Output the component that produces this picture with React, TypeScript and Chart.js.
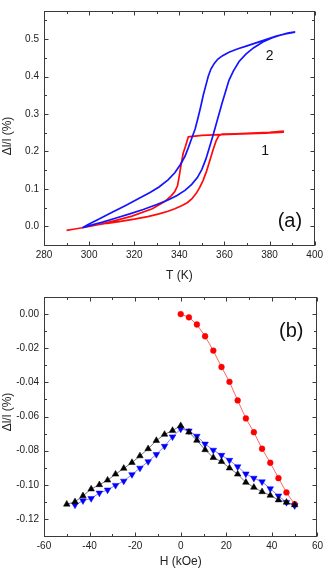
import { useEffect, useRef } from "react";
import { Chart, registerables } from "chart.js";

Chart.register(...registerables);

const FONT = "'Liberation Sans', Arial, Helvetica, sans-serif";

// ---------- Panel (a): strain vs temperature ----------
const tempTicks = [280, 300, 320, 340, 360, 380, 400];
const strainTicksA = [0, 0.1, 0.2, 0.3, 0.4, 0.5];

// curve 1 (red): heating branch then cooling branch
const curve1T = [
  290, 293, 297, 302, 308, 314, 320, 326, 331, 335, 338, 341, 343.5, 345.5, 347.5, 349, 350.5, 352, 353.5, 355, 356.3,
  357.5, 359, 365, 372, 380, 386,
  386, 378, 368, 358, 350, 344, 342.8, 341.7, 340.8, 340, 339.2, 338, 336.5, 333.5, 328, 319, 311.5, 304, 297,
];
const curve1Y = [
  -0.011, -0.008, -0.004, 0.002, 0.008, 0.013, 0.019, 0.026, 0.033, 0.04, 0.047, 0.055, 0.063, 0.073, 0.088, 0.103,
  0.122, 0.146, 0.175, 0.205, 0.228, 0.242, 0.246, 0.247, 0.249, 0.251, 0.254,
  0.251, 0.249, 0.247, 0.245, 0.243, 0.239, 0.215, 0.195, 0.165, 0.135, 0.108, 0.093, 0.082, 0.066, 0.047, 0.027,
  0.015, 0.004, -0.004,
];

// curve 2 (blue): heating branch then cooling branch
const curve2T = [
  297, 301, 306, 312, 318, 324, 330, 335, 339, 342.5, 345.5, 348, 350, 351.8, 353.3, 354.8, 356.2, 357.6, 359, 360.5,
  362, 364, 366.5, 369.5, 373, 377, 381, 385, 388, 391,
  391, 387, 383, 379, 375, 370, 366, 362, 359, 357, 355.5, 354, 352.8, 351.7, 350.6, 349.5, 348.3, 347, 345.5, 344,
  342.5, 340.5, 338, 335, 331, 327, 322, 316, 310, 304, 300, 297,
];
const curve2Y = [
  -0.004, 0.003, 0.011, 0.022, 0.033, 0.045, 0.058, 0.07, 0.082, 0.096, 0.112, 0.13, 0.152, 0.18, 0.21, 0.24, 0.27,
  0.3, 0.33, 0.36, 0.39, 0.415, 0.44, 0.46, 0.477, 0.492, 0.503, 0.511, 0.516, 0.519,
  0.518, 0.514, 0.508, 0.5, 0.492, 0.482, 0.474, 0.465, 0.455, 0.446, 0.435, 0.42, 0.4, 0.375, 0.35, 0.32, 0.29, 0.26,
  0.235, 0.21, 0.187, 0.165, 0.143, 0.124, 0.105, 0.09, 0.074, 0.055, 0.037, 0.018, 0.006, -0.004,
];

// ---------- Panel (b): strain vs field ----------
const fieldTicks = [-60, -40, -20, 0, 20, 40, 60];
const strainTicksB = [0, -0.02, -0.04, -0.06, -0.08, -0.1, -0.12];

const fieldRed = [0, 3.6, 7.1, 10.7, 14.3, 17.9, 21.4, 25, 28.6, 32.1, 35.7, 39.3, 42.9, 46.4, 50];
const strainRed = [
  0, -0.0019, -0.0061, -0.013, -0.0214, -0.031, -0.0397, -0.0506, -0.0611, -0.0692, -0.0789, -0.0871, -0.0961,
  -0.1045, -0.1114,
];

const fieldBlack = [
  -50, -46.4, -42.9, -39.3, -35.7, -32.1, -28.6, -25, -21.4, -17.9, -14.3, -10.7, -7.1, -3.6, 0, 3.6, 7.1, 10.7, 14.3,
  17.9, 21.4, 25, 28.6, 32.1, 35.7, 39.3, 42.9, 46.4, 50,
];
const strainBlack = [
  -0.1114, -0.11, -0.1065, -0.1025, -0.1, -0.0973, -0.0938, -0.0904, -0.087, -0.0831, -0.0789, -0.0741, -0.0705,
  -0.0682, -0.0654, -0.0692, -0.074, -0.0795, -0.0841, -0.0864, -0.0902, -0.0938, -0.0986, -0.1015, -0.1041, -0.1062,
  -0.1089, -0.1103, -0.1118,
];

const fieldBlue = [
  -46.4, -42.9, -39.3, -35.7, -32.1, -28.6, -25, -21.4, -17.9, -14.3, -10.7, -7.1, -3.6, 0, 3.6, 7.1, 10.7, 14.3, 17.9,
  21.4, 25, 28.6, 32.1, 35.7, 39.3, 42.9, 46.4, 50,
];
const strainBlue = [
  -0.1118, -0.1093, -0.108, -0.1048, -0.103, -0.1003, -0.0978, -0.094, -0.0902, -0.0864, -0.0822, -0.0774, -0.0719,
  -0.0673, -0.0684, -0.0715, -0.0761, -0.0797, -0.0827, -0.0856, -0.0894, -0.0936, -0.0961, -0.0982, -0.1023, -0.1065,
  -0.1103, -0.1122,
];

const pts = (xs: number[], ys: number[]) => xs.map((x, i) => ({ x, y: ys[i] }));

const framePlugin = {
  id: "frame",
  afterDatasetsDraw(chart: any, _args: any, opts: any) {
    const { ctx, chartArea: a } = chart;
    const xs = chart.scales.x;
    const ys = chart.scales.y;
    const L = Math.round(a.left) + 0.5;
    const R = Math.round(a.right) - 0.5;
    const T = Math.round(a.top) + 0.5;
    const B = Math.round(a.bottom) + 0.5;
    ctx.save();
    ctx.strokeStyle = "#3a3a3a";
    ctx.lineWidth = 1;
    ctx.strokeRect(L, T, R - L, B - T);
    const line = (x1: number, y1: number, x2: number, y2: number) => {
      ctx.beginPath();
      ctx.moveTo(x1, y1);
      ctx.lineTo(x2, y2);
      ctx.stroke();
    };
    const minorsOf = (maj: number[], lo: number, hi: number) => {
      const s = [...maj].sort((p, q) => p - q);
      const out: number[] = [];
      const step = s[1] - s[0];
      const cand = [s[0] - step / 2, ...s.slice(1).map((v, i) => (v + s[i]) / 2), s[s.length - 1] + step / 2];
      for (const c of cand) if (c > lo + 1e-9 && c < hi - 1e-9) out.push(c);
      return out;
    };
    const tickX = (v: number, len: number) => {
      const p = Math.round(xs.getPixelForValue(v)) + 0.5;
      line(p, B, p, B - len);
      line(p, T, p, T + len);
    };
    const tickY = (v: number, len: number) => {
      const p = Math.round(ys.getPixelForValue(v)) + 0.5;
      line(L, p, L + len, p);
      line(R, p, R - len, p);
    };
    opts.xMajor.forEach((v: number) => tickX(v, 4));
    minorsOf(opts.xMajor, xs.min, xs.max).forEach((v) => tickX(v, 2.5));
    opts.yMajor.forEach((v: number) => tickY(v, 4));
    minorsOf(opts.yMajor, ys.min, ys.max).forEach((v) => tickY(v, 2.5));

    ctx.fillStyle = "#111";
    ctx.textAlign = "center";
    ctx.textBaseline = "middle";
    for (const lb of opts.labels) {
      ctx.font = `${lb.size}px ${FONT}`;
      ctx.fillText(lb.text, xs.getPixelForValue(lb.x), ys.getPixelForValue(lb.y));
    }
    const yt = opts.yTitle;
    ctx.translate(yt.x, yt.y);
    ctx.rotate(-Math.PI / 2);
    ctx.font = `${yt.size}px ${FONT}`;
    ctx.fillStyle = "#222";
    ctx.fillText(yt.text, 0, 0);
    ctx.restore();
  },
};

function axisX(min: number, max: number, ticks: number[], title: string, height: number) {
  return {
    type: "linear",
    position: "bottom",
    min,
    max,
    afterBuildTicks: (s: any) => {
      s.ticks = ticks.map((v) => ({ value: v }));
    },
    afterFit: (s: any) => {
      s.height = height;
    },
    grid: { display: false, drawTicks: false },
    border: { display: false },
    ticks: {
      font: { size: 10, family: FONT },
      color: "#222",
      padding: 4,
      maxRotation: 0,
      autoSkip: false,
      callback: (v: any) => String(v),
    },
    title: {
      display: true,
      text: title,
      font: { size: 12, family: FONT },
      color: "#222",
      padding: { top: 0, bottom: 3 },
    },
  };
}

function axisY(min: number, max: number, ticks: number[], digits: number) {
  return {
    type: "linear",
    min,
    max,
    afterBuildTicks: (s: any) => {
      s.ticks = ticks.map((v) => ({ value: v }));
    },
    afterFit: (s: any) => {
      s.width = 44;
    },
    grid: { display: false, drawTicks: false },
    border: { display: false },
    ticks: {
      font: { size: 10, family: FONT },
      color: "#222",
      padding: 5,
      autoSkip: false,
      callback: (v: any) => (Math.round(Number(v) * 1000) / 1000).toFixed(digits),
    },
    title: { display: false },
  };
}

export default function App() {
  const refA = useRef<HTMLCanvasElement>(null);
  const refB = useRef<HTMLCanvasElement>(null);

  useEffect(() => {
    const chartA = new Chart(refA.current as HTMLCanvasElement, {
      type: "scatter",
      data: {
        datasets: [
          {
            data: pts(curve2T, curve2Y),
            showLine: true,
            borderColor: "rgb(20,20,255)",
            borderWidth: 1.7,
            pointRadius: 0,
            tension: 0,
          },
          {
            data: pts(curve1T, curve1Y),
            showLine: true,
            borderColor: "rgb(255,10,10)",
            borderWidth: 1.7,
            pointRadius: 0,
            tension: 0,
          },
        ],
      },
      options: {
        responsive: false,
        animation: false,
        layout: { padding: { top: 1, right: 9, left: 0, bottom: 0 } },
        plugins: {
          legend: { display: false },
          tooltip: { enabled: false },
          frame: {
            xMajor: tempTicks,
            yMajor: strainTicksA,
            labels: [
              { text: "2", x: 380, y: 0.455, size: 14 },
              { text: "1", x: 378, y: 0.2, size: 14 },
              { text: "(a)", x: 389, y: 0.014, size: 20 },
            ],
            yTitle: { text: "Δl/l (%)", x: 8, y: 136, size: 12 },
          },
        } as any,
        scales: {
          x: axisX(280, 400, tempTicks, "T (K)", 41),
          y: axisY(-0.05, 0.575, strainTicksA, 1),
        } as any,
      },
      plugins: [framePlugin],
    });

    const chartB = new Chart(refB.current as HTMLCanvasElement, {
      type: "scatter",
      data: {
        datasets: [
          {
            data: pts(fieldBlack, strainBlack),
            showLine: true,
            borderColor: "#555",
            borderWidth: 0.8,
            pointStyle: "triangle",
            pointRadius: 3.8,
            pointBackgroundColor: "#000",
            pointBorderColor: "#000",
            pointBorderWidth: 0.5,
          },
          {
            data: pts(fieldBlue, strainBlue),
            showLine: true,
            borderColor: "#6060ff",
            borderWidth: 0.8,
            pointStyle: "triangle",
            rotation: 180,
            pointRadius: 3.8,
            pointBackgroundColor: "#0000ff",
            pointBorderColor: "#0000ff",
            pointBorderWidth: 0.5,
          },
          {
            data: pts(fieldRed, strainRed),
            showLine: true,
            borderColor: "#ff4040",
            borderWidth: 0.8,
            pointStyle: "circle",
            pointRadius: 2.9,
            pointBackgroundColor: "#ff0000",
            pointBorderColor: "#ff0000",
            pointBorderWidth: 0.5,
          },
        ],
      },
      options: {
        responsive: false,
        animation: false,
        layout: { padding: { top: 7, right: 9, left: 0, bottom: 0 } },
        plugins: {
          legend: { display: false },
          tooltip: { enabled: false },
          frame: {
            xMajor: fieldTicks,
            yMajor: strainTicksB,
            labels: [{ text: "(b)", x: 48.5, y: -0.0103, size: 20 }],
            yTitle: { text: "Δl/l (%)", x: 7.5, y: 126, size: 12 },
          },
        } as any,
        scales: {
          x: axisX(-60, 60, fieldTicks, "H (kOe)", 36),
          y: axisY(-0.13, 0.01, strainTicksB, 2),
        } as any,
      },
      plugins: [framePlugin],
    });

    return () => {
      chartA.destroy();
      chartB.destroy();
    };
  }, []);

  return (
    <div style={{ position: "absolute", left: 0, top: 0, width: 327, height: 572, background: "#fff" }}>
      <canvas ref={refA} width={327} height={286} style={{ display: "block", width: 327, height: 286 }} />
      <canvas ref={refB} width={327} height={286} style={{ display: "block", width: 327, height: 286 }} />
    </div>
  );
}
